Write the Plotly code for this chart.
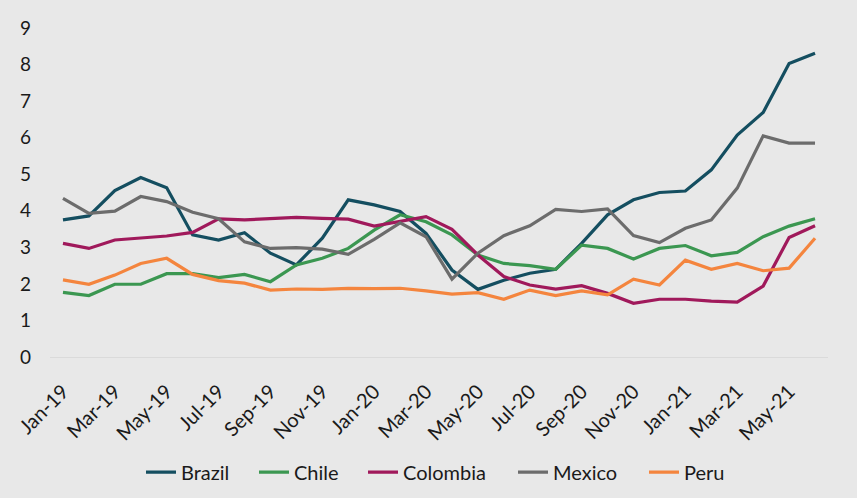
import plotly.graph_objects as go

# monthly series, Jan-19 .. Jun-21
months = ["Jan-19", "Feb-19", "Mar-19", "Apr-19", "May-19", "Jun-19",
          "Jul-19", "Aug-19", "Sep-19", "Oct-19", "Nov-19", "Dec-19",
          "Jan-20", "Feb-20", "Mar-20", "Apr-20", "May-20", "Jun-20",
          "Jul-20", "Aug-20", "Sep-20", "Oct-20", "Nov-20", "Dec-20",
          "Jan-21", "Feb-21", "Mar-21", "Apr-21", "May-21", "Jun-21"]

brazil = [3.75, 3.86, 4.55, 4.91, 4.63, 3.34, 3.20, 3.40, 2.84, 2.52,
          3.25, 4.30, 4.16, 3.98, 3.38, 2.38, 1.85, 2.10, 2.29, 2.40,
          3.11, 3.89, 4.30, 4.50, 4.54, 5.12, 6.07, 6.69, 8.03, 8.31]
chile = [1.77, 1.68, 1.99, 1.99, 2.28, 2.28, 2.17, 2.26, 2.06, 2.52,
         2.70, 2.97, 3.47, 3.89, 3.70, 3.34, 2.79, 2.56, 2.50, 2.40,
         3.06, 2.97, 2.68, 2.97, 3.05, 2.77, 2.86, 3.29, 3.58, 3.78]
colombia = [3.11, 2.97, 3.20, 3.25, 3.31, 3.41, 3.78, 3.75, 3.79, 3.82,
            3.79, 3.77, 3.58, 3.70, 3.84, 3.49, 2.79, 2.20, 1.97, 1.86,
            1.95, 1.74, 1.47, 1.58, 1.58, 1.53, 1.50, 1.94, 3.27, 3.59]
mexico = [4.34, 3.93, 3.99, 4.39, 4.25, 3.96, 3.78, 3.15, 2.97, 2.99,
          2.95, 2.81, 3.22, 3.67, 3.29, 2.13, 2.84, 3.32, 3.59, 4.04,
          3.98, 4.05, 3.32, 3.13, 3.52, 3.75, 4.62, 6.05, 5.85, 5.85]
peru = [2.11, 1.99, 2.24, 2.56, 2.70, 2.26, 2.09, 2.02, 1.83, 1.86,
        1.85, 1.88, 1.87, 1.88, 1.81, 1.72, 1.76, 1.58, 1.83, 1.68,
        1.81, 1.70, 2.13, 1.97, 2.65, 2.40, 2.56, 2.36, 2.43, 3.25]

series = [("Brazil", brazil, "#144e60"),
          ("Chile", chile, "#3b9751"),
          ("Colombia", colombia, "#a0195b"),
          ("Mexico", mexico, "#6c6c6c"),
          ("Peru", peru, "#f4853e")]

# legend text-slot widths (px) so the entry spacing matches the original
legend_w = {"Brazil": 68, "Chile": 64, "Colombia": 105, "Mexico": 86, "Peru": 48}

fig = go.Figure()
for name, vals, col in series:
    fig.add_trace(go.Scatter(x=months, y=vals, name=name, mode="lines",
                             line=dict(color=col, width=3.2),
                             legendwidth=legend_w[name]))

fig.update_layout(
    width=857, height=498,
    paper_bgcolor="#e8e8e8", plot_bgcolor="#e8e8e8",
    margin=dict(l=50, r=29, t=28, b=141, autoexpand=False),
    font=dict(family="Lato", size=18, color="#1a1a1a"),
    showlegend=True,
    legend=dict(orientation="h", x=0.5, xanchor="center", y=-0.35, yanchor="middle",
                font=dict(size=20), itemwidth=30, bgcolor="rgba(0,0,0,0)"),
)
fig.update_xaxes(type="category", tickvals=months[::2], tickangle=-45,
                 tickfont=dict(size=20), range=[-0.5, 29.5], ticklabelstandoff=14,
                 automargin=False,
                 showgrid=False, showline=True, linecolor="#dadada", linewidth=1,
                 ticks="")
fig.update_yaxes(range=[0, 9], dtick=1, showgrid=False, zeroline=False,
                 showline=False, ticks="", tickfont=dict(size=19),
                 ticklabelstandoff=18, automargin=False)

# drop the default page margin so the chart sits flush in the window
fig.write_html("out.html", config={"displayModeBar": False},
               post_script="document.body.style.margin='0';"
                           "document.body.style.background='#e8e8e8';")
